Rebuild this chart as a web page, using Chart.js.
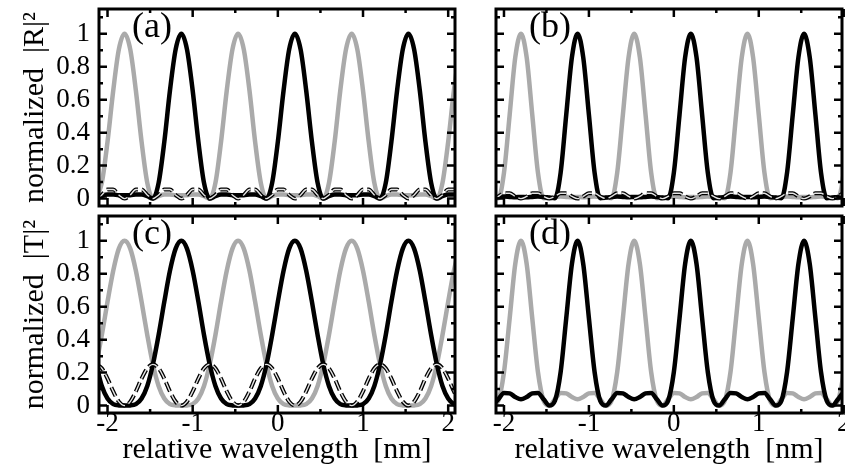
<!DOCTYPE html>
<html lang="en">
<head>
<meta charset="UTF-8">
<title>Normalized reflection and transmission spectra</title>
<script src="https://cdn.jsdelivr.net/npm/chart.js"></script>
<style>
  body { margin: 0; background: #fff; }
  .panel { position: absolute; }
</style>
</head>
<body>
<div class="panel" style="left:0;top:0;width:470px;height:211px"><canvas id="panelA"></canvas></div>
<div class="panel" style="left:470px;top:0;width:375px;height:211px"><canvas id="panelB"></canvas></div>
<div class="panel" style="left:0;top:211px;width:470px;height:257px"><canvas id="panelC"></canvas></div>
<div class="panel" style="left:470px;top:211px;width:375px;height:257px"><canvas id="panelD"></canvas></div>

<script>
// relative wavelength samples [nm]
const wavelength = [-2.133, -2.067, -2.000, -1.933, -1.867, -1.800, -1.733, -1.667, -1.600, -1.533,
  -1.467, -1.400, -1.333, -1.267, -1.200, -1.133, -1.067, -1.000, -0.933, -0.867,
  -0.800, -0.733, -0.667, -0.600, -0.533, -0.467, -0.400, -0.333, -0.267, -0.200,
  -0.133, -0.067, 0, 0.067, 0.133, 0.200, 0.267, 0.333, 0.400, 0.467,
  0.533, 0.600, 0.667, 0.733, 0.800, 0.867, 0.933, 1.000, 1.067, 1.133,
  1.200, 1.267, 1.333, 1.400, 1.467, 1.533, 1.600, 1.667, 1.733, 1.800,
  1.867, 1.933, 2.000, 2.067, 2.133];

// (a) normalized |R|^2
const reflGrayA = [0, 0.095, 0.345, 0.655, 0.905,
  1, 0.905, 0.655, 0.345, 0.095, 0, 0.015, 0.025, 0.025, 0.02, 0.02,
  0.02, 0.025, 0.025, 0.015, 0, 0.095, 0.345, 0.655, 0.905, 1,
  0.905, 0.655, 0.345, 0.095, 0, 0.015, 0.025, 0.025, 0.02, 0.02,
  0.02, 0.025, 0.025, 0.015, 0, 0.095, 0.345, 0.655, 0.905, 1,
  0.905, 0.655, 0.345, 0.095, 0, 0.015, 0.025, 0.025, 0.02, 0.02,
  0.02, 0.025, 0.025, 0.015, 0, 0.095, 0.345, 0.655, 0.905];
const reflBlackA = [0, 0.015, 0.025, 0.025, 0.02,
  0.02, 0.02, 0.025, 0.025, 0.015, 0, 0.095, 0.345, 0.655, 0.905, 1,
  0.905, 0.655, 0.345, 0.095, 0, 0.015, 0.025, 0.025, 0.02, 0.02,
  0.02, 0.025, 0.025, 0.015, 0, 0.095, 0.345, 0.655, 0.905, 1,
  0.905, 0.655, 0.345, 0.095, 0, 0.015, 0.025, 0.025, 0.02, 0.02,
  0.02, 0.025, 0.025, 0.015, 0, 0.095, 0.345, 0.655, 0.905, 1,
  0.905, 0.655, 0.345, 0.095, 0, 0.015, 0.025, 0.025, 0.02];
const reflDashA = [0, 0.022, 0.055, 0.055, 0.022, 0, 0.022, 0.055, 0.055, 0.022,
  0, 0.022, 0.055, 0.055, 0.022, 0, 0.022, 0.055, 0.055, 0.022,
  0, 0.022, 0.055, 0.055, 0.022, 0, 0.022, 0.055, 0.055, 0.022,
  0, 0.022, 0.055, 0.055, 0.022, 0, 0.022, 0.055, 0.055, 0.022,
  0, 0.022, 0.055, 0.055, 0.022, 0, 0.022, 0.055, 0.055, 0.022,
  0, 0.022, 0.055, 0.055, 0.022, 0, 0.022, 0.055, 0.055, 0.022,
  0, 0.022, 0.055, 0.055, 0.022];

// (b) normalized |R|^2
const reflGrayB = [0.006, 0.002, 0.157, 0.509, 0.857,
  1, 0.857, 0.509, 0.157, 0.002, 0.006, 0.01, 0.012, 0.01, 0.008, 0.01,
  0.008, 0.01, 0.012, 0.01, 0.006, 0.002, 0.157, 0.509, 0.857, 1,
  0.857, 0.509, 0.157, 0.002, 0.006, 0.01, 0.012, 0.01, 0.008, 0.01,
  0.008, 0.01, 0.012, 0.01, 0.006, 0.002, 0.157, 0.509, 0.857, 1,
  0.857, 0.509, 0.157, 0.002, 0.006, 0.01, 0.012, 0.01, 0.008, 0.01,
  0.008, 0.01, 0.012, 0.01, 0.006, 0.002, 0.157, 0.509, 0.857];
const reflBlackB = [0.006, 0.01, 0.012, 0.01, 0.008,
  0.01, 0.008, 0.01, 0.012, 0.01, 0.006, 0.002, 0.157, 0.509, 0.857, 1,
  0.857, 0.509, 0.157, 0.002, 0.006, 0.01, 0.012, 0.01, 0.008, 0.01,
  0.008, 0.01, 0.012, 0.01, 0.006, 0.002, 0.157, 0.509, 0.857, 1,
  0.857, 0.509, 0.157, 0.002, 0.006, 0.01, 0.012, 0.01, 0.008, 0.01,
  0.008, 0.01, 0.012, 0.01, 0.006, 0.002, 0.157, 0.509, 0.857, 1,
  0.857, 0.509, 0.157, 0.002, 0.006, 0.01, 0.012, 0.01, 0.008];
const reflDashB = [0, 0.013, 0.032, 0.032, 0.013, 0, 0.013, 0.032, 0.032, 0.013,
  0, 0.013, 0.032, 0.032, 0.013, 0, 0.013, 0.032, 0.032, 0.013,
  0, 0.013, 0.032, 0.032, 0.013, 0, 0.013, 0.032, 0.032, 0.013,
  0, 0.013, 0.032, 0.032, 0.013, 0, 0.013, 0.032, 0.032, 0.013,
  0, 0.013, 0.032, 0.032, 0.013, 0, 0.013, 0.032, 0.032, 0.013,
  0, 0.013, 0.032, 0.032, 0.013, 0, 0.013, 0.032, 0.032, 0.013,
  0, 0.013, 0.032, 0.032, 0.013];

// (c) normalized |T|^2
const transGrayC = [0.25, 0.428, 0.63, 0.818, 0.952,
  1, 0.952, 0.818, 0.63, 0.428, 0.25, 0.119, 0.043, 0.009, 0.001, 0,
  0.001, 0.009, 0.043, 0.119, 0.25, 0.428, 0.63, 0.818, 0.952, 1,
  0.952, 0.818, 0.63, 0.428, 0.25, 0.119, 0.043, 0.009, 0.001, 0,
  0.001, 0.009, 0.043, 0.119, 0.25, 0.428, 0.63, 0.818, 0.952, 1,
  0.952, 0.818, 0.63, 0.428, 0.25, 0.119, 0.043, 0.009, 0.001, 0,
  0.001, 0.009, 0.043, 0.119, 0.25, 0.428, 0.63, 0.818, 0.952];
const transBlackC = [0.25, 0.119, 0.043, 0.009, 0.001,
  0, 0.001, 0.009, 0.043, 0.119, 0.25, 0.428, 0.63, 0.818, 0.952, 1,
  0.952, 0.818, 0.63, 0.428, 0.25, 0.119, 0.043, 0.009, 0.001, 0,
  0.001, 0.009, 0.043, 0.119, 0.25, 0.428, 0.63, 0.818, 0.952, 1,
  0.952, 0.818, 0.63, 0.428, 0.25, 0.119, 0.043, 0.009, 0.001, 0,
  0.001, 0.009, 0.043, 0.119, 0.25, 0.428, 0.63, 0.818, 0.952, 1,
  0.952, 0.818, 0.63, 0.428, 0.25, 0.119, 0.043, 0.009, 0.001];
const transDashC = [0.25, 0.226, 0.164, 0.086, 0.024, 0, 0.024, 0.086, 0.164, 0.226,
  0.25, 0.226, 0.164, 0.086, 0.024, 0, 0.024, 0.086, 0.164, 0.226,
  0.25, 0.226, 0.164, 0.086, 0.024, 0, 0.024, 0.086, 0.164, 0.226,
  0.25, 0.226, 0.164, 0.086, 0.024, 0, 0.024, 0.086, 0.164, 0.226,
  0.25, 0.226, 0.164, 0.086, 0.024, 0, 0.024, 0.086, 0.164, 0.226,
  0.25, 0.226, 0.164, 0.086, 0.024, 0, 0.024, 0.086, 0.164, 0.226,
  0.25, 0.226, 0.164, 0.086, 0.024];

// (d) normalized |T|^2
const transGrayD = [0, 0.03, 0.203, 0.53, 0.86,
  1, 0.86, 0.53, 0.203, 0.03, 0, 0.038, 0.077, 0.074, 0.052, 0.038,
  0.052, 0.074, 0.077, 0.038, 0, 0.03, 0.203, 0.53, 0.86, 1,
  0.86, 0.53, 0.203, 0.03, 0, 0.038, 0.077, 0.074, 0.052, 0.038,
  0.052, 0.074, 0.077, 0.038, 0, 0.03, 0.203, 0.53, 0.86, 1,
  0.86, 0.53, 0.203, 0.03, 0, 0.038, 0.077, 0.074, 0.052, 0.038,
  0.052, 0.074, 0.077, 0.038, 0, 0.03, 0.203, 0.53, 0.86];
const transBlackD = [0, 0.038, 0.077, 0.074, 0.052,
  0.038, 0.052, 0.074, 0.077, 0.038, 0, 0.03, 0.203, 0.53, 0.86, 1,
  0.86, 0.53, 0.203, 0.03, 0, 0.038, 0.077, 0.074, 0.052, 0.038,
  0.052, 0.074, 0.077, 0.038, 0, 0.03, 0.203, 0.53, 0.86, 1,
  0.86, 0.53, 0.203, 0.03, 0, 0.038, 0.077, 0.074, 0.052, 0.038,
  0.052, 0.074, 0.077, 0.038, 0, 0.03, 0.203, 0.53, 0.86, 1,
  0.86, 0.53, 0.203, 0.03, 0, 0.038, 0.077, 0.074, 0.052];

// axis ticks
const xMajorTicks = [-2, -1, 0, 1, 2];
const xMinorTicks = [-1.5, -0.5, 0.5, 1.5];
const yMajorTicks = [0, 0.2, 0.4, 0.6, 0.8, 1];
const yMinorTicks = [0.1, 0.3, 0.5, 0.7, 0.9, 1.1];

const SERIF = '"Liberation Serif", "DejaVu Serif", serif';
const GRAY = '#aaaaaa';

// frame box, inward ticks on all four sides, and the panel letter
const framePlugin = {
  id: 'frame',
  afterDatasetsDraw(chart, args, opts) {
    const { ctx, chartArea: a } = chart;
    const x = chart.scales.x, y = chart.scales.y;
    ctx.save();
    ctx.strokeStyle = '#000';
    ctx.lineWidth = 2.5;
    ctx.beginPath();
    const xt = (list, len) => list.forEach(v => {
      const px = x.getPixelForValue(v);
      ctx.moveTo(px, a.bottom); ctx.lineTo(px, a.bottom - len);
      ctx.moveTo(px, a.top); ctx.lineTo(px, a.top + len);
    });
    const yt = (list, len) => list.forEach(v => {
      const py = y.getPixelForValue(v);
      ctx.moveTo(a.left, py); ctx.lineTo(a.left + len, py);
      ctx.moveTo(a.right, py); ctx.lineTo(a.right - len, py);
    });
    xt(xMajorTicks, 8); xt(xMinorTicks, 4);
    yt(yMajorTicks, 8); yt(yMinorTicks, 4);
    ctx.stroke();
    ctx.lineWidth = 3;
    ctx.strokeRect(a.left, a.top, a.right - a.left, a.bottom - a.top);
    ctx.fillStyle = '#000';
    ctx.font = '36px ' + SERIF;
    ctx.textBaseline = 'middle';
    ctx.fillText(opts.label, a.left + 33, a.top + 19);
    ctx.restore();
  }
};

function makePanel(id, cfg) {
  const datasets = cfg.series.map(s => ({
    data: wavelength.map((w, i) => ({ x: w, y: s.values[i] })),
    borderColor: s.color,
    borderWidth: s.width,
    borderDash: s.dash || [],
    pointRadius: 0,
    cubicInterpolationMode: 'monotone',
    clip: 0
  }));
  return new Chart(document.getElementById(id), {
    type: 'line',
    data: { datasets },
    plugins: [framePlugin],
    options: {
      responsive: true,
      maintainAspectRatio: false,
      animation: false,
      events: [],
      layout: { padding: { left: 0, top: cfg.padTop, right: cfg.padRight, bottom: 0 } },
      plugins: { legend: { display: false }, tooltip: { enabled: false }, frame: { label: cfg.label } },
      scales: {
        x: {
          type: 'linear',
          min: cfg.xMin,
          max: cfg.xMax,
          afterBuildTicks: s => { s.ticks = xMajorTicks.map(v => ({ value: v })); },
          afterFit: s => { s.height = cfg.xHeight; s.paddingLeft = 0; s.paddingRight = 0; },
          grid: { display: false, drawTicks: false },
          border: { display: false },
          ticks: {
            display: cfg.xLabels, autoSkip: false, maxRotation: 0, padding: -5,
            color: '#000', font: { family: SERIF, size: 27 }, callback: v => String(v)
          },
          title: {
            display: cfg.xLabels, text: 'relative wavelength  [nm]', color: '#000',
            font: { family: SERIF, size: 30 }, padding: 0
          }
        },
        y: {
          min: -0.045,
          max: 1.15,
          afterBuildTicks: s => { s.ticks = yMajorTicks.map(v => ({ value: v })); },
          afterFit: s => { s.width = cfg.yWidth; s.paddingTop = 0; s.paddingBottom = 0; },
          grid: { display: false, drawTicks: false },
          border: { display: false },
          ticks: {
            display: !!cfg.yTitle, autoSkip: false, padding: 9,
            color: '#000', font: { family: SERIF, size: 27 }, callback: v => String(v)
          },
          title: {
            display: !!cfg.yTitle, text: cfg.yTitle || '', color: '#000',
            font: { family: SERIF, size: 30 }, padding: { top: 17, bottom: 0 }
          }
        }
      }
    }
  });
}

function dashedPair(values) {
  return [
    { values, color: '#e4e4e4', width: 1.4, dash: [10, 4] },
    { values, color: '#000', width: 4, dash: [10, 4] }
  ];
}

makePanel('panelA', {
  label: '(a)', yTitle: 'normalized  |R|\u00b2', xLabels: false,
  xMin: -2.1, xMax: 2.08, yWidth: 99, xHeight: 5, padTop: 9, padRight: 15,
  series: [...dashedPair(reflDashA),
    { values: reflBlackA, color: '#000', width: 4.5 },
    { values: reflGrayA, color: GRAY, width: 4.5 }]
});
makePanel('panelB', {
  label: '(b)', yTitle: null, xLabels: false,
  xMin: -2.094, xMax: 1.98, yWidth: 26, xHeight: 5, padTop: 9, padRight: 3,
  series: [...dashedPair(reflDashB),
    { values: reflBlackB, color: '#000', width: 4.5 },
    { values: reflGrayB, color: GRAY, width: 4.5 }]
});
makePanel('panelC', {
  label: '(c)', yTitle: 'normalized  |T|\u00b2', xLabels: true,
  xMin: -2.1, xMax: 2.08, yWidth: 99, xHeight: 55, padTop: 5, padRight: 15,
  series: [...dashedPair(transDashC),
    { values: transBlackC, color: '#000', width: 4.5 },
    { values: transGrayC, color: GRAY, width: 4.5 }]
});
makePanel('panelD', {
  label: '(d)', yTitle: null, xLabels: true,
  xMin: -2.094, xMax: 1.98, yWidth: 26, xHeight: 55, padTop: 5, padRight: 3,
  series: [{ values: transBlackD, color: '#000', width: 4.5 },
    { values: transGrayD, color: GRAY, width: 4.5 }]
});
</script>
</body>
</html>
